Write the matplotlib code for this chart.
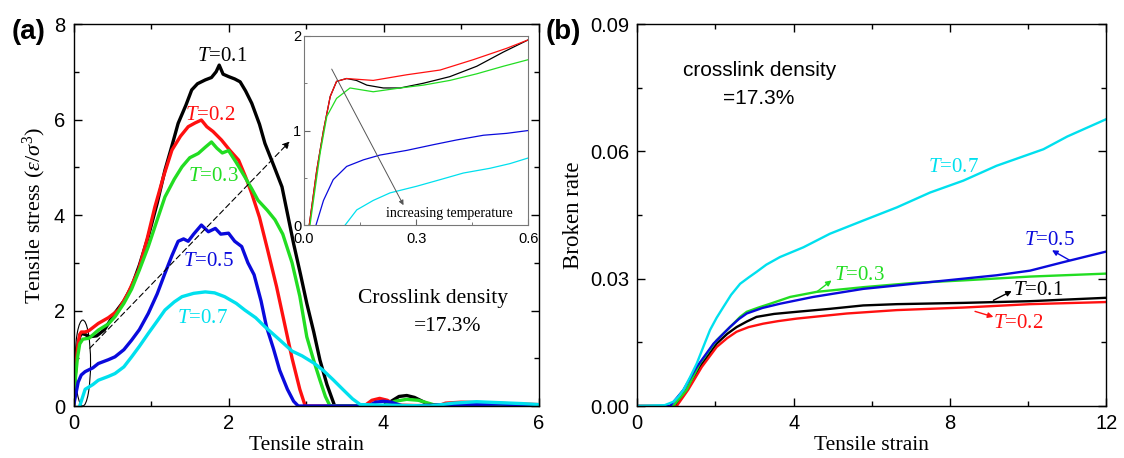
import matplotlib
matplotlib.use("Agg")
import matplotlib.pyplot as plt
from matplotlib.patches import Ellipse
from matplotlib.ticker import MultipleLocator

plt.rcParams.update({
    "font.family": "Liberation Sans",
    "mathtext.fontset": "custom",
    "mathtext.rm": "Liberation Serif",
    "mathtext.it": "Liberation Serif:italic",
    "mathtext.bf": "Liberation Serif:bold",
    "axes.linewidth": 1.0,
})

SERIF = "Liberation Serif"
C_BLACK = "#000000"
C_RED = "#ff1010"
C_GREEN = "#22dd22"
C_BLUE = "#0a0adc"
C_CYAN = "#00e0ee"

# ---- panel (a): stress-strain curves ----
a_t01_x = [0.0, 0.02, 0.05, 0.08, 0.1, 0.15, 0.2, 0.3, 0.4, 0.535, 0.65, 0.75, 0.85, 0.965, 1.08,
           1.18, 1.27, 1.35, 1.45, 1.525, 1.6, 1.7, 1.78, 1.84, 1.88, 1.93, 2.0, 2.08, 2.15, 2.22,
           2.3, 2.4, 2.47, 2.58, 2.69, 2.84, 2.93, 3.01, 3.1, 3.18, 3.27, 3.37, 4.0, 4.1, 4.2, 4.3,
           4.4, 4.5, 4.6, 5.0, 5.5, 6.0]
a_t01_y = [0.0, 0.6, 1.2, 1.45, 1.52, 1.5, 1.45, 1.47, 1.6, 1.95, 2.2, 2.5, 2.95, 3.55, 4.25,
           4.94, 5.45, 5.92, 6.3, 6.62, 6.75, 6.83, 6.88, 7.0, 7.14, 6.95, 6.9, 6.85, 6.79, 6.6,
           6.34, 5.9, 5.5, 5.05, 4.59, 3.4, 2.75, 2.15, 1.55, 0.96, 0.45, 0.0, 0.0, 0.1, 0.2, 0.22,
           0.18, 0.1, 0.02, 0.02, 0.03, 0.02]

a_t02_x = [0.0, 0.02, 0.05, 0.08, 0.1, 0.15, 0.2, 0.32, 0.45, 0.58, 0.7, 0.84, 0.95, 1.05, 1.16,
           1.27, 1.38, 1.48, 1.57, 1.65, 1.72, 1.8, 1.91, 2.02, 2.13, 2.22, 2.3, 2.4, 2.5, 2.62,
           2.72, 2.82, 2.92, 2.99, 3.75, 3.85, 3.95, 4.05, 4.15, 4.7, 4.8, 5.0, 5.3, 5.6, 6.0]
a_t02_y = [0.0, 0.6, 1.2, 1.5, 1.55, 1.55, 1.58, 1.73, 1.85, 2.01, 2.35, 2.85, 3.5, 4.17, 4.8,
           5.36, 5.65, 5.85, 5.93, 5.99, 5.85, 5.75, 5.57, 5.35, 5.15, 4.8, 4.45, 3.95, 3.3, 2.5,
           1.75, 1.0, 0.35, 0.0, 0.0, 0.12, 0.16, 0.12, 0.02, 0.0, 0.06, 0.08, 0.07, 0.05, 0.03]

a_t03_x = [0.0, 0.02, 0.05, 0.08, 0.12, 0.2, 0.32, 0.45, 0.535, 0.65, 0.75, 0.85, 0.965, 1.08,
           1.18, 1.3, 1.4, 1.5, 1.61, 1.7, 1.78, 1.85, 1.92, 2.0, 2.1, 2.21, 2.3, 2.38, 2.5, 2.6,
           2.7, 2.82, 2.92, 3.01, 3.1, 3.18, 3.25, 3.31, 4.0, 4.15, 4.3, 4.45, 4.6, 4.7, 6.0]
a_t03_y = [0.0, 0.5, 1.0, 1.3, 1.4, 1.42, 1.59, 1.72, 1.87, 2.15, 2.45, 2.85, 3.34, 3.9,
           4.38, 4.75, 5.01, 5.2, 5.29, 5.42, 5.53, 5.4, 5.3, 5.35, 5.1, 4.8, 4.55, 4.31, 4.1, 3.9,
           3.6, 3.0, 2.3, 1.45, 0.95, 0.54, 0.2, 0.0, 0.0, 0.1, 0.14, 0.12, 0.05, 0.0, 0.0]

a_t05_x = [0.0, 0.03, 0.06, 0.1, 0.15, 0.25, 0.32, 0.45, 0.535, 0.65, 0.75, 0.85, 0.965, 1.08,
           1.18, 1.27, 1.35, 1.42, 1.48, 1.55, 1.65, 1.74, 1.83, 1.9, 2.0, 2.08, 2.17, 2.25, 2.33,
           2.42, 2.49, 2.58, 2.66, 2.76, 2.84, 2.9, 3.8, 3.9, 4.0, 4.1, 4.25, 5.0, 5.5, 6.0]
a_t05_y = [0.0, 0.25, 0.5, 0.65, 0.72, 0.8, 0.89, 0.97, 1.03, 1.18, 1.38, 1.6, 1.94, 2.35,
           2.78, 3.15, 3.45, 3.5, 3.45, 3.6, 3.79, 3.65, 3.72, 3.6, 3.62, 3.45, 3.34, 3.0, 2.75,
           2.2, 1.66, 1.2, 0.75, 0.35, 0.1, 0.0, 0.0, 0.08, 0.1, 0.08, 0.0, 0.03, 0.04, 0.02]

a_t07_x = [0.08, 0.1, 0.13, 0.15, 0.25, 0.32, 0.45, 0.535, 0.65, 0.75, 0.85, 0.965, 1.08, 1.18,
           1.3, 1.4, 1.55, 1.7, 1.82, 1.95, 2.1, 2.21, 2.35, 2.47, 2.65, 2.82, 2.95, 3.1, 3.22,
           3.35, 3.48, 3.6, 3.7, 4.6, 4.9, 5.2, 5.5, 5.8, 6.0]
a_t07_y = [0.0, 0.1, 0.25, 0.35, 0.45, 0.54, 0.62, 0.68, 0.82, 1.03, 1.25, 1.52, 1.78, 2.01,
           2.18, 2.29, 2.36, 2.39, 2.37, 2.29, 2.15, 2.01, 1.85, 1.66, 1.4, 1.15, 1.05, 0.9, 0.75,
           0.55, 0.34, 0.15, 0.03, 0.0, 0.06, 0.09, 0.07, 0.05, 0.03]

# ---- inset of (a): small strain region ----
in_t01_x = [0.014, 0.034, 0.052, 0.07, 0.087, 0.114, 0.14, 0.168, 0.212, 0.257, 0.319, 0.39, 0.462, 0.533, 0.6]
in_t01_y = [0.0, 0.58, 1.0, 1.36, 1.52, 1.55, 1.53, 1.48, 1.45, 1.45, 1.5, 1.57, 1.68, 1.83, 1.96]
in_t02_x = [0.014, 0.034, 0.052, 0.07, 0.087, 0.114, 0.185, 0.275, 0.364, 0.453, 0.542, 0.6]
in_t02_y = [0.0, 0.58, 1.0, 1.36, 1.52, 1.55, 1.53, 1.59, 1.64, 1.75, 1.87, 1.96]
in_t03_x = [0.016, 0.043, 0.061, 0.087, 0.123, 0.185, 0.257, 0.319, 0.39, 0.462, 0.533, 0.6]
in_t03_y = [0.0, 0.76, 1.15, 1.34, 1.45, 1.41, 1.45, 1.48, 1.53, 1.6, 1.68, 1.75]
in_t05_x = [0.032, 0.052, 0.078, 0.114, 0.159, 0.203, 0.275, 0.346, 0.408, 0.48, 0.542, 0.6]
in_t05_y = [0.0, 0.26, 0.48, 0.62, 0.69, 0.74, 0.79, 0.85, 0.9, 0.95, 0.97, 1.0]
in_t07_x = [0.11, 0.141, 0.185, 0.23, 0.301, 0.364, 0.426, 0.497, 0.551, 0.6]
in_t07_y = [0.0, 0.16, 0.26, 0.34, 0.41, 0.48, 0.55, 0.6, 0.65, 0.71]

# ---- panel (b): broken rate ----
b_t01_x = [0.0, 0.97, 1.26, 1.6, 2.03, 2.3, 2.54, 2.8, 3.05, 3.5, 4.08, 4.93, 5.78, 6.64, 8.34, 10.05, 12.0]
b_t01_y = [0.0, 0.0, 0.0038, 0.0092, 0.0147, 0.017, 0.0186, 0.0199, 0.021, 0.0217, 0.0222, 0.0229,
           0.0237, 0.024, 0.0243, 0.0247, 0.0255]
b_t02_x = [0.0, 1.01, 1.3, 1.65, 2.03, 2.3, 2.54, 2.85, 3.22, 3.6, 4.08, 5.36, 6.64, 8.34, 10.05, 12.0]
b_t02_y = [0.0, 0.0, 0.0038, 0.0092, 0.0139, 0.016, 0.0175, 0.0186, 0.0194, 0.02, 0.0206, 0.0218,
           0.0226, 0.0232, 0.024, 0.0245]
b_t03_x = [0.0, 0.92, 1.26, 1.6, 2.03, 2.46, 2.63, 2.8, 3.1, 3.4, 3.91, 4.59, 5.78, 7.06, 8.34, 10.05, 12.0]
b_t03_y = [0.0, 0.0, 0.0038, 0.01, 0.0155, 0.0194, 0.021, 0.0222, 0.0232, 0.0241, 0.0257, 0.0269,
           0.028, 0.029, 0.0296, 0.0305, 0.0312]
b_t05_x = [0.0, 0.84, 1.18, 1.52, 1.95, 2.37, 2.6, 2.8, 3.2, 3.65, 4.5, 5.78, 7.06, 8.34, 9.19,
           10.05, 10.9, 12.0]
b_t05_y = [0.0, 0.0, 0.0038, 0.0092, 0.0147, 0.0186, 0.0205, 0.0218, 0.0231, 0.0241, 0.0257, 0.0276,
           0.0288, 0.03, 0.0308, 0.0319, 0.0339, 0.0364]
b_t07_x = [0.0, 0.7, 0.92, 1.05, 1.18, 1.35, 1.52, 1.7, 1.86, 2.03, 2.2, 2.4, 2.63, 2.85, 3.05,
           3.3, 3.65, 4.25, 4.93, 5.78, 6.64, 7.49, 8.34, 9.19, 10.39, 11.0, 12.0]
b_t07_y = [0.0, 0.0002, 0.001, 0.0022, 0.0038, 0.0068, 0.01, 0.0142, 0.0179, 0.0208, 0.0233, 0.0262,
           0.0288, 0.0303, 0.0316, 0.0333, 0.0351, 0.0374, 0.0406, 0.0437, 0.0468, 0.0503, 0.0531,
           0.0566, 0.0605, 0.0635, 0.0676]


def style_axes(ax, size=14.5):
    ax.tick_params(which="both", direction="in", top=True, right=True, labelsize=size)
    ax.tick_params(which="major", length=6, width=1.0, pad=6)
    ax.tick_params(which="minor", length=3.5, width=1.0)


fig = plt.figure(figsize=(11.24, 4.58), dpi=100)

# panel (a)
ax1 = fig.add_axes([0.0654, 0.1135, 0.4137, 0.834])
for x, y, c in [(a_t01_x, a_t01_y, C_BLACK), (a_t02_x, a_t02_y, C_RED), (a_t03_x, a_t03_y, C_GREEN),
                (a_t05_x, a_t05_y, C_BLUE), (a_t07_x, a_t07_y, C_CYAN)]:
    ax1.plot(x, y, color=c, lw=2.4, solid_joinstyle="round")
ax1.set_xlim(0, 6)
ax1.set_ylim(0, 8)
ax1.xaxis.set_major_locator(MultipleLocator(2))
ax1.xaxis.set_minor_locator(MultipleLocator(1))
ax1.yaxis.set_major_locator(MultipleLocator(2))
ax1.yaxis.set_minor_locator(MultipleLocator(1))
style_axes(ax1)
ax1.set_xlabel("Tensile strain", fontfamily=SERIF, fontsize=15.5, labelpad=2)
ax1.set_ylabel(r"Tensile stress ($\varepsilon/\sigma^3$)", fontfamily=SERIF, fontsize=16, labelpad=4)

for txt, x, y, c in [("0.1", 1.92, 7.33, C_BLACK), ("0.2", 1.76, 6.09, C_RED), ("0.3", 1.80, 4.80, C_GREEN),
                     ("0.5", 1.74, 3.02, C_BLUE), ("0.7", 1.67, 1.84, C_CYAN)]:
    ax1.text(x, y, r"$T$=" + txt, color=c, fontfamily=SERIF, fontsize=15, ha="center", va="center")

ax1.text(4.64, 2.26, "Crosslink density", fontfamily=SERIF, fontsize=15.5, ha="center", va="center")
ax1.text(4.83, 1.66, "=17.3%", fontfamily=SERIF, fontsize=15.5, ha="center", va="center")
ax1.add_patch(Ellipse((0.12, 0.9), width=0.2, height=1.8, fill=False, lw=0.8, edgecolor="black"))
ax1.annotate("", xy=(2.79, 5.54), xytext=(0.21, 1.21),
             arrowprops=dict(arrowstyle="-|>", color="black", lw=0.8, linestyle=(0, (5, 3)),
                             mutation_scale=10, shrinkA=0, shrinkB=0))

# inset
axi = fig.add_axes([0.2705, 0.5087, 0.1996, 0.4127])
for x, y, c in [(in_t01_x, in_t01_y, C_BLACK), (in_t02_x, in_t02_y, C_RED), (in_t03_x, in_t03_y, C_GREEN),
                (in_t05_x, in_t05_y, C_BLUE), (in_t07_x, in_t07_y, C_CYAN)]:
    axi.plot(x, y, color=c, lw=0.9)
axi.set_xlim(0, 0.6)
axi.set_ylim(0, 2)
axi.xaxis.set_minor_locator(MultipleLocator(0.15))
axi.yaxis.set_major_locator(MultipleLocator(1))
axi.yaxis.set_minor_locator(MultipleLocator(0.5))
axi.set_xticks([0, 0.3, 0.6], ["0.0", "0.3", "0.6"])
axi.tick_params(which="both", direction="in", labelsize=10.5, color="#666666")
axi.tick_params(which="major", length=4, pad=2)
axi.tick_params(axis="x", which="major", pad=5)
axi.tick_params(which="minor", length=2.5)
for sp in axi.spines.values():
    sp.set_color("#777777")
    sp.set_linewidth(0.8)
axi.annotate("", xy=(0.266, 0.21), xytext=(0.074, 1.65),
             arrowprops=dict(arrowstyle="-|>", color="#555555", lw=0.7, mutation_scale=7,
                             shrinkA=0, shrinkB=0))
axi.text(0.39, 0.12, "increasing temperature", fontfamily=SERIF, fontsize=10, ha="center", va="center")

# panel (b)
ax2 = fig.add_axes([0.567, 0.1135, 0.4173, 0.834])
for x, y, c in [(b_t01_x, b_t01_y, C_BLACK), (b_t02_x, b_t02_y, C_RED), (b_t03_x, b_t03_y, C_GREEN),
                (b_t05_x, b_t05_y, C_BLUE), (b_t07_x, b_t07_y, C_CYAN)]:
    ax2.plot(x, y, color=c, lw=1.7)
ax2.set_xlim(0, 12)
ax2.set_ylim(0, 0.09)
ax2.xaxis.set_major_locator(MultipleLocator(4))
ax2.xaxis.set_minor_locator(MultipleLocator(2))
ax2.yaxis.set_major_locator(MultipleLocator(0.03))
ax2.yaxis.set_minor_locator(MultipleLocator(0.015))
ax2.yaxis.set_major_formatter(lambda v, p: f"{v:.2f}")
style_axes(ax2)
ax2.set_xlabel("Tensile strain", fontfamily=SERIF, fontsize=15.5, labelpad=2)
ax2.set_ylabel("Broken rate", fontfamily=SERIF, fontsize=16.5, labelpad=4)

for txt, x, y, c in [("0.7", 8.08, 0.0562, C_CYAN), ("0.5", 10.54, 0.039, C_BLUE), ("0.3", 5.67, 0.0308, C_GREEN),
                     ("0.1", 10.25, 0.0273, C_BLACK), ("0.2", 9.74, 0.0195, C_RED)]:
    ax2.text(x, y, r"$T$=" + txt, color=c, fontfamily=SERIF, fontsize=15, ha="center", va="center")

for (x0, y0), (x1, y1), c in [((4.59, 0.0269), (4.97, 0.0296), C_GREEN), ((9.11, 0.0249), (9.58, 0.0271), C_BLACK),
                              ((11.07, 0.0343), (10.61, 0.0367), C_BLUE), ((8.64, 0.0223), (9.11, 0.021), C_RED)]:
    ax2.annotate("", xy=(x1, y1), xytext=(x0, y0),
                 arrowprops=dict(arrowstyle="-|>", color=c, lw=1.0, mutation_scale=8, shrinkA=0, shrinkB=0))

ax2.text(3.13, 0.079, "crosslink density", fontsize=15, ha="center", va="center")
ax2.text(3.11, 0.0724, "=17.3%", fontsize=15, ha="center", va="center")

fig.text(0.0107, 0.930, "(a)", fontsize=20, fontweight="bold", ha="left", va="center")
fig.text(0.485, 0.930, "(b)", fontsize=20, fontweight="bold", ha="left", va="center")

fig.savefig("out.png", dpi=100)
